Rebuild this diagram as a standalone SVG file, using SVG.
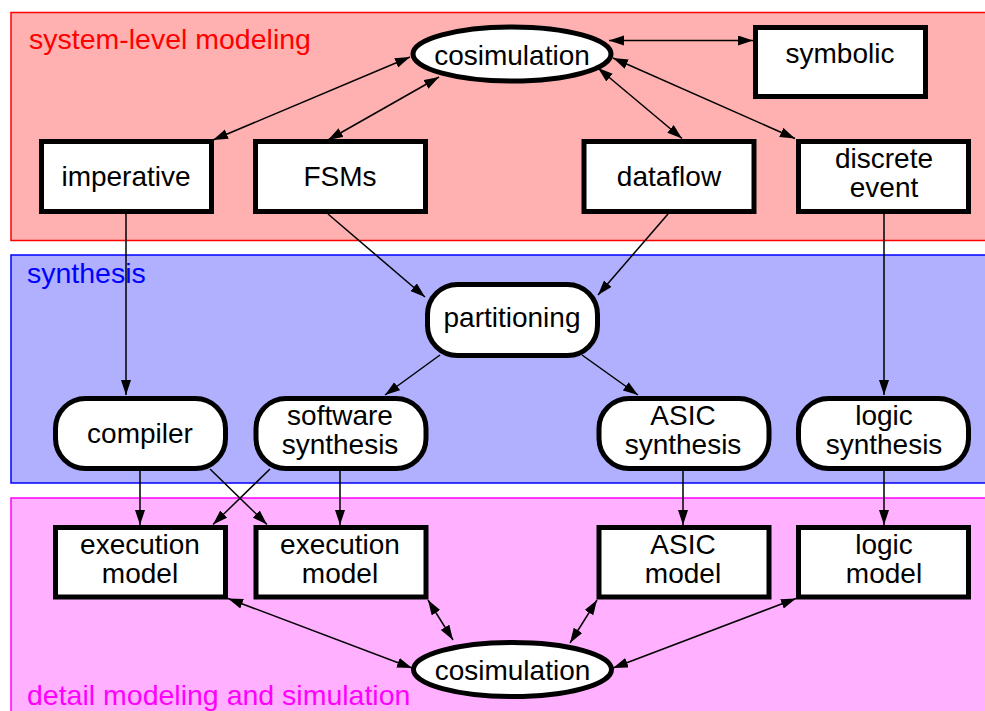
<svg xmlns="http://www.w3.org/2000/svg" width="985" height="711" viewBox="0 0 985 711">
<style>
.panel{stroke-width:1.5}
.title{font-family:"Liberation Sans",Arial,sans-serif;font-size:28.5px}
.box{fill:#fff;stroke:#000;stroke-width:5}
.lbl{font-family:"Liberation Sans",Arial,sans-serif;font-size:28px;fill:#000;text-anchor:middle}
.c{fill:none;stroke:#000;stroke-width:1.5}
.a{marker-end:url(#ah)}
.b{marker-start:url(#ah);marker-end:url(#ah)}
</style>
<defs>
<marker id="ah" markerUnits="userSpaceOnUse" markerWidth="16" markerHeight="11" refX="15" refY="5" orient="auto-start-reverse" viewBox="0 0 16 11">
<path d="M0,0 L15,5 L0,10 Z" fill="#000"/>
</marker>
</defs>
<rect width="985" height="711" fill="#fff"/>
<g id="panels">
<rect class="panel" x="11" y="12.5" width="985" height="228" fill="#ffb0b0" stroke="#ff0000"/>
<rect class="panel" x="11" y="255" width="985" height="228" fill="#b0b0ff" stroke="#0000ff"/>
<rect class="panel" x="11" y="498" width="985" height="230" fill="#ffb0ff" stroke="#ff00ff"/>
<text class="title" x="29" y="49" fill="#ff0000">system-level modeling</text>
<text class="title" x="27" y="283" fill="#0000ff">synthesis</text>
<text class="title" x="27" y="705" fill="#ff00ff">detail modeling and simulation</text>
</g>
<g id="connectors">
<line class="c b" x1="609" y1="40.5" x2="753" y2="40.5"/>
<line class="c b" x1="410" y1="57" x2="213" y2="140"/>
<line class="c b" x1="439" y1="77" x2="328" y2="140"/>
<line class="c b" x1="598" y1="68" x2="682" y2="138.5"/>
<line class="c b" x1="613" y1="58" x2="795" y2="138.5"/>
<line class="c a" x1="126" y1="214" x2="126" y2="395"/>
<line class="c a" x1="328" y1="214" x2="425" y2="297"/>
<line class="c a" x1="668" y1="214" x2="598" y2="295"/>
<line class="c a" x1="884" y1="214" x2="884" y2="395"/>
<line class="c a" x1="440" y1="355" x2="385" y2="395"/>
<line class="c a" x1="582" y1="355" x2="638" y2="395"/>
<line class="c a" x1="140" y1="471" x2="140" y2="525"/>
<line class="c a" x1="210" y1="469" x2="267" y2="524.5"/>
<line class="c a" x1="270" y1="469" x2="213" y2="524.5"/>
<line class="c a" x1="340" y1="471" x2="340" y2="525"/>
<line class="c a" x1="683" y1="471" x2="683" y2="525"/>
<line class="c a" x1="884" y1="471" x2="884" y2="525"/>
<line class="c b" x1="228" y1="598.5" x2="412" y2="668"/>
<line class="c b" x1="428" y1="600" x2="453" y2="640"/>
<line class="c b" x1="597" y1="600" x2="570" y2="643"/>
<line class="c b" x1="796" y1="598.5" x2="613" y2="668"/>
</g>
<g id="cosim-top">
<ellipse class="box" cx="512" cy="54" rx="99" ry="27"/>
<text class="lbl" x="512" y="65">cosimulation</text>
</g>
<g id="symbolic">
<rect class="box" x="755.5" y="27.5" width="170" height="69"/>
<text class="lbl" x="840" y="63">symbolic</text>
</g>
<g id="imperative">
<rect class="box" x="41.5" y="141.5" width="170" height="70"/>
<text class="lbl" x="126" y="186">imperative</text>
</g>
<g id="fsms">
<rect class="box" x="255.5" y="141.5" width="170" height="70"/>
<text class="lbl" x="340" y="186">FSMs</text>
</g>
<g id="dataflow">
<rect class="box" x="584" y="141.5" width="170" height="70"/>
<text class="lbl" x="669" y="186">dataflow</text>
</g>
<g id="discrete-event">
<rect class="box" x="798.5" y="141.5" width="170" height="70"/>
<text class="lbl" x="884" y="168">discrete</text>
<text class="lbl" x="884" y="197">event</text>
</g>
<g id="partitioning">
<rect class="box" x="427.5" y="284.5" width="170" height="71" rx="30" ry="30"/>
<text class="lbl" x="512" y="327">partitioning</text>
</g>
<g id="compiler">
<rect class="box" x="55.5" y="398.5" width="170" height="70" rx="30" ry="30"/>
<text class="lbl" x="140" y="443">compiler</text>
</g>
<g id="software-synthesis">
<rect class="box" x="256" y="398.5" width="170" height="70" rx="30" ry="30"/>
<text class="lbl" x="340" y="425">software</text>
<text class="lbl" x="340" y="454">synthesis</text>
</g>
<g id="asic-synthesis">
<rect class="box" x="599" y="398.5" width="170" height="70" rx="30" ry="30"/>
<text class="lbl" x="683" y="425">ASIC</text>
<text class="lbl" x="683" y="454">synthesis</text>
</g>
<g id="logic-synthesis">
<rect class="box" x="798.5" y="398.5" width="170" height="70" rx="30" ry="30"/>
<text class="lbl" x="884" y="425">logic</text>
<text class="lbl" x="884" y="454">synthesis</text>
</g>
<g id="execution-model-1">
<rect class="box" x="55.5" y="527.5" width="170" height="69.5"/>
<text class="lbl" x="140" y="554">execution</text>
<text class="lbl" x="140" y="583">model</text>
</g>
<g id="execution-model-2">
<rect class="box" x="256" y="527.5" width="170" height="69.5"/>
<text class="lbl" x="340" y="554">execution</text>
<text class="lbl" x="340" y="583">model</text>
</g>
<g id="asic-model">
<rect class="box" x="599" y="527.5" width="170" height="69.5"/>
<text class="lbl" x="683" y="554">ASIC</text>
<text class="lbl" x="683" y="583">model</text>
</g>
<g id="logic-model">
<rect class="box" x="798.5" y="527.5" width="170" height="69.5"/>
<text class="lbl" x="884" y="554">logic</text>
<text class="lbl" x="884" y="583">model</text>
</g>
<g id="cosim-bottom">
<ellipse class="box" cx="512.5" cy="669.5" rx="99" ry="27"/>
<text class="lbl" x="512.5" y="680">cosimulation</text>
</g>
</svg>
